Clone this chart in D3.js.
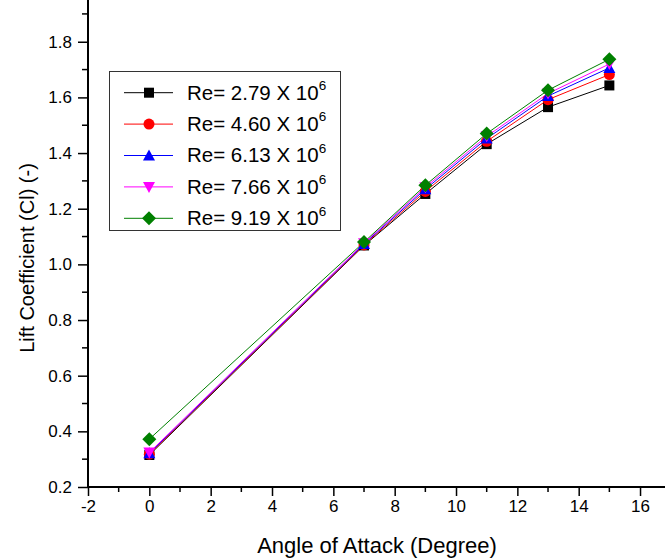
<!DOCTYPE html>
<html><head><meta charset="utf-8">
<script src="https://cdn.jsdelivr.net/npm/d3@7"></script>
<style>html,body{margin:0;padding:0;background:#fff;} svg{display:block;font-family:"Liberation Sans",Arial,sans-serif;}</style>
</head><body>
<script>
const angles = [0, 7, 9, 11, 13, 15];
const seriesNames = ["2.79", "4.60", "6.13", "7.66", "9.19"];
const cl_279 = [0.315, 1.068, 1.253, 1.432, 1.565, 1.643];
const cl_460 = [0.318, 1.070, 1.262, 1.442, 1.592, 1.682];
const cl_613 = [0.321, 1.073, 1.270, 1.452, 1.605, 1.706];
const cl_766 = [0.324, 1.076, 1.277, 1.460, 1.614, 1.720];
const cl_919 = [0.372, 1.080, 1.284, 1.470, 1.626, 1.737];
const xTicks = [-2, 0, 2, 4, 6, 8, 10, 12, 14, 16];
const yTicks = [0.2, 0.4, 0.6, 0.8, 1.0, 1.2, 1.4, 1.6, 1.8];

const colors = ["#000000", "#ff0000", "#0000ff", "#ff00ff", "#008000"];
const symbols = ["square", "circle", "triangle", "triangleDown", "diamond"];
const seriesValues = [cl_279, cl_460, cl_613, cl_766, cl_919];

const W = 665, H = 558;
const svg = d3.select("body").append("svg").attr("width", W).attr("height", H);

const x = d3.scaleLinear().domain([-2, 17]).range([88, 670.7]);
const y = d3.scaleLinear().domain([0.2, 1.95]).range([487, 0]);

function drawSymbol(g, type, cx, cy, color) {
  if (type === "square") {
    g.append("rect").attr("x", cx - 5).attr("y", cy - 5).attr("width", 10).attr("height", 10).attr("fill", color);
  } else if (type === "circle") {
    g.append("circle").attr("cx", cx).attr("cy", cy).attr("r", 5.5).attr("fill", color);
  } else if (type === "triangle") {
    g.append("path").attr("d", `M${cx},${cy-6}L${cx+6},${cy+5}L${cx-6},${cy+5}Z`).attr("fill", color);
  } else if (type === "triangleDown") {
    g.append("path").attr("d", `M${cx},${cy+6}L${cx+6},${cy-5}L${cx-6},${cy-5}Z`).attr("fill", color);
  } else if (type === "diamond") {
    g.append("path").attr("d", `M${cx},${cy-7}L${cx+7},${cy}L${cx},${cy+7}L${cx-7},${cy}Z`).attr("fill", color);
  }
}

// axes
const xAxis = d3.axisBottom(x).tickValues(xTicks).tickSize(9).tickPadding(4).tickFormat(d => String(d));
const gx = svg.append("g").attr("transform", "translate(0,487)").call(xAxis);
const xMinor = d3.range(-1, 17, 2);
gx.selectAll(".minor").data(xMinor).enter().append("line").attr("class","minor")
  .attr("x1", d => x(d)).attr("x2", d => x(d)).attr("y1", 0).attr("y2", 5).attr("stroke", "#000").attr("stroke-width", 1.5);

const yAxis = d3.axisLeft(y).tickValues(yTicks).tickSize(10).tickPadding(6).tickFormat(d3.format(".1f"));
const gy = svg.append("g").attr("transform", "translate(88,0)").call(yAxis);
const yMinor = [0.3, 0.5, 0.7, 0.9, 1.1, 1.3, 1.5, 1.7, 1.9];
gy.selectAll(".minor").data(yMinor).enter().append("line").attr("class","minor")
  .attr("x1", 0).attr("x2", -6).attr("y1", d => y(d)).attr("y2", d => y(d)).attr("stroke", "#000").attr("stroke-width", 1.5);

[gx, gy].forEach(g => {
  g.select(".domain").attr("stroke", "#000").attr("stroke-width", 2);
  g.selectAll(".tick line").attr("stroke", "#000").attr("stroke-width", 1.5);
  g.selectAll(".tick text").attr("font-size", 17).attr("fill", "#000").attr("font-family", "Liberation Sans, Arial, sans-serif");
});
gx.select(".domain").attr("d", `M${x(-2)},0H${W}`);
gy.select(".domain").attr("d", `M0,${y(0.2)}V0`);

// axis titles
svg.append("text").attr("x", 377).attr("y", 553).attr("text-anchor", "middle")
  .attr("font-size", 22).attr("fill", "#000").text("Angle of Attack (Degree)");
svg.append("text").attr("transform", "translate(34,258) rotate(-90)").attr("text-anchor", "middle")
  .attr("font-size", 20).attr("fill", "#000").text("Lift Coefficient (Cl) (-)");

// series lines
const line = d3.line().x((d, i) => x(angles[i])).y(d => y(d));
seriesValues.forEach((vals, si) => {
  svg.append("path").attr("d", line(vals)).attr("fill", "none").attr("stroke", colors[si]).attr("stroke-width", 1);
});
seriesValues.forEach((vals, si) => {
  const g = svg.append("g");
  vals.forEach((v, i) => drawSymbol(g, symbols[si], x(angles[i]), y(v), colors[si]));
});

// legend
const lg = svg.append("g");
lg.append("rect").attr("x", 109.5).attr("y", 71.5).attr("width", 231).attr("height", 159)
  .attr("fill", "#fff").attr("stroke", "#333").attr("stroke-width", 1);
seriesNames.forEach((name, i) => {
  const cy = 92.7 + i * 31.4;
  lg.append("line").attr("x1", 124).attr("x2", 173).attr("y1", cy).attr("y2", cy).attr("stroke", colors[i]).attr("stroke-width", 1);
  drawSymbol(lg, symbols[i], 149, cy, colors[i]);
  const t = lg.append("text").attr("x", 187).attr("y", cy + 6.8).attr("font-size", 20.5).attr("fill", "#000");
  t.append("tspan").text(`Re= ${name} X 10`);
  t.append("tspan").attr("font-size", 13.5).attr("dy", -9.5).text("6");
});
</script>
</body></html>
